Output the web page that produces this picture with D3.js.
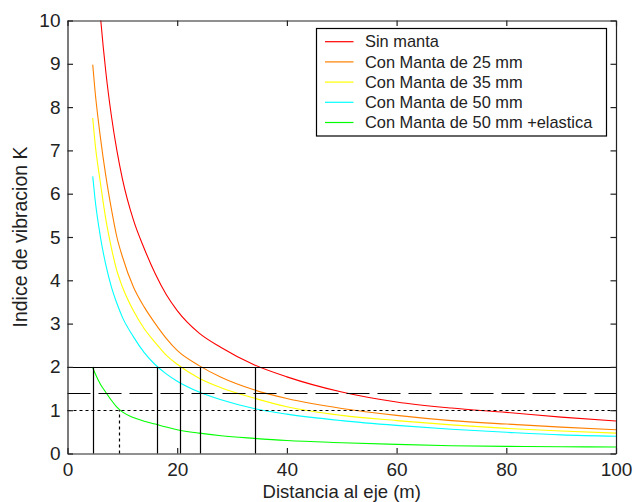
<!DOCTYPE html>
<html>
<head>
<meta charset="utf-8">
<script src="https://cdn.jsdelivr.net/npm/d3@7"></script>
<style>
  html, body { margin: 0; padding: 0; background: #fff; }
  svg { display: block; font-family: "Liberation Sans", Arial, sans-serif; }
</style>
</head>
<body>
<svg id="chart" width="635" height="502"></svg>
<script>
// Distance from the track axis (m)
const distances = [4.6, 5, 6, 7, 8, 9, 10, 12, 14, 16, 18, 20, 24, 28, 34, 40, 50, 60, 70, 80, 90, 100];

// Vibration index K for each treatment
const sinManta     = [12.6, 11.8, 10.1, 8.8, 7.8, 7.0, 6.35, 5.4, 4.73, 4.15, 3.67, 3.3, 2.78, 2.45, 2.05, 1.77, 1.42, 1.19, 1.05, 0.95, 0.84, 0.75];
const manta25      = [8.98, 8.4, 7.3, 6.4, 5.65, 5.0, 4.55, 3.85, 3.38, 3.0, 2.66, 2.38, 2.03, 1.76, 1.47, 1.27, 1.04, 0.88, 0.76, 0.68, 0.61, 0.55];
const manta35      = [7.75, 7.2, 6.25, 5.4, 4.75, 4.22, 3.85, 3.3, 2.88, 2.56, 2.27, 2.06, 1.74, 1.52, 1.28, 1.08, 0.88, 0.76, 0.66, 0.58, 0.52, 0.47];
const manta50      = [6.4, 5.9, 5.0, 4.35, 3.85, 3.47, 3.15, 2.7, 2.33, 2.05, 1.84, 1.67, 1.42, 1.24, 1.04, 0.91, 0.76, 0.65, 0.56, 0.49, 0.43, 0.40];
const manta50Elast = [1.98, 1.86, 1.6, 1.41, 1.23, 1.07, 0.96, 0.83, 0.745, 0.68, 0.61, 0.55, 0.47, 0.41, 0.35, 0.30, 0.25, 0.21, 0.18, 0.165, 0.155, 0.15];

const seriesNames = ["Sin manta", "Con Manta de 25 mm", "Con Manta de 35 mm", "Con Manta de 50 mm", "Con Manta de 50 mm +elastica"];
const seriesValues = [sinManta, manta25, manta35, manta50, manta50Elast];
const seriesColors = ["#ff0000", "#ff8000", "#ffff00", "#00ffff", "#00ff00"];

// Limit levels of K
const limitSolid = 2;
const limitDashed = 1.4;
const limitDotted = 1;
// Distances where each curve reaches K = 2, and where the last one reaches K = 1
const crossAt2 = [4.6, 16.4, 20.6, 24.2, 34.2];
const crossAt1 = [9.3];

const xTicks = [0, 20, 40, 60, 80, 100];
const yTicks = [0, 1, 2, 3, 4, 5, 6, 7, 8, 9, 10];

const svg = d3.select("#chart");
const plotLeft = 67.5, plotRight = 616, plotTop = 20.5, plotBottom = 453.5;

const x = d3.scaleLinear().domain([0, 100]).range([plotLeft, plotRight]);
const y = d3.scaleLinear().domain([0, 10]).range([plotBottom, plotTop]);

svg.append("defs").append("clipPath").attr("id", "plotClip")
  .append("rect").attr("x", plotLeft).attr("y", plotTop)
  .attr("width", plotRight - plotLeft).attr("height", plotBottom - plotTop);

const plot = svg.append("g").attr("clip-path", "url(#plotClip)");

// Curves
const line = d3.line()
  .x((d, i) => x(distances[i]))
  .y(d => y(d))
  .curve(d3.curveMonotoneX);

seriesValues.forEach((vals, k) => {
  plot.append("path")
    .datum(vals)
    .attr("fill", "none")
    .attr("stroke", seriesColors[k])
    .attr("stroke-width", 1.1)
    .attr("d", line);
});

// Limit lines
const refs = svg.append("g").attr("stroke", "#000").attr("fill", "none");
const snap = v => Math.round(v) + 0.5;

refs.append("line")
  .attr("x1", x(0)).attr("x2", x(100))
  .attr("y1", snap(y(limitSolid))).attr("y2", snap(y(limitSolid)))
  .attr("stroke-width", 1.2);
refs.append("line")
  .attr("x1", x(0)).attr("x2", x(100))
  .attr("y1", snap(y(limitDashed))).attr("y2", snap(y(limitDashed)))
  .attr("stroke-width", 1.2)
  .attr("stroke-dasharray", "23,8");
refs.append("line")
  .attr("x1", x(0)).attr("x2", x(100))
  .attr("y1", snap(y(limitDotted))).attr("y2", snap(y(limitDotted)))
  .attr("stroke-width", 1.2)
  .attr("stroke-dasharray", "3,3");

refs.selectAll("line.v2").data(crossAt2).enter().append("line")
  .attr("class", "v2")
  .attr("x1", d => snap(x(d))).attr("x2", d => snap(x(d)))
  .attr("y1", y(0)).attr("y2", y(limitSolid))
  .attr("stroke-width", 1.2);
refs.selectAll("line.v1").data(crossAt1).enter().append("line")
  .attr("class", "v1")
  .attr("x1", d => snap(x(d))).attr("x2", d => snap(x(d)))
  .attr("y1", y(0)).attr("y2", y(limitDotted))
  .attr("stroke-width", 1.2)
  .attr("stroke-dasharray", "3,3");

// Axes (ticks point inward, box on all four sides)
const tickLen = 5.5;
const fontSize = 19;

const gx = svg.append("g").attr("transform", `translate(0,${plotBottom})`)
  .call(d3.axisBottom(x).tickValues(xTicks).tickSizeInner(-tickLen).tickSizeOuter(0).tickPadding(9.5));
const gy = svg.append("g").attr("transform", `translate(${plotLeft},0)`)
  .call(d3.axisLeft(y).tickValues(yTicks).tickSizeInner(-tickLen).tickSizeOuter(0).tickPadding(7));
const gxt = svg.append("g").attr("transform", `translate(0,${plotTop})`)
  .call(d3.axisTop(x).tickValues(xTicks).tickSizeInner(-tickLen).tickSizeOuter(0).tickFormat(""));
const gyr = svg.append("g").attr("transform", `translate(${plotRight},0)`)
  .call(d3.axisRight(y).tickValues(yTicks).tickSizeInner(-tickLen).tickSizeOuter(0).tickFormat(""));

[gx, gy, gxt, gyr].forEach(g => {
  g.select(".domain").attr("stroke", "#222").attr("stroke-width", 1.2);
  g.selectAll(".tick line").attr("stroke", "#222").attr("stroke-width", 1.2);
  g.selectAll(".tick text")
    .attr("fill", "#222")
    .style("font-size", fontSize + "px")
    .style("font-family", '"Liberation Sans", Arial, sans-serif');
});

// Axis titles
svg.append("text")
  .attr("x", (plotLeft + plotRight) / 2)
  .attr("y", 498)
  .attr("text-anchor", "middle")
  .attr("fill", "#222")
  .style("font-size", "18.5px")
  .text("Distancia al eje (m)");

svg.append("text")
  .attr("transform", `translate(26.5,${(plotTop + plotBottom) / 2}) rotate(-90)`)
  .attr("text-anchor", "middle")
  .attr("fill", "#222")
  .style("font-size", "19.5px")
  .text("Indice de vibracion K");

// Legend
const legend = svg.append("g");
const lgX = 316.5, lgY = 28.5, lgW = 290, lgH = 107.5, rowH = 20.2, firstRow = 41.7;
legend.append("rect")
  .attr("x", lgX).attr("y", lgY).attr("width", lgW).attr("height", lgH)
  .attr("fill", "#fff").attr("stroke", "#000").attr("stroke-width", 1.2);

const rows = legend.selectAll("g.row").data(seriesNames).enter().append("g")
  .attr("class", "row")
  .attr("transform", (d, i) => `translate(0,${firstRow + i * rowH})`);
rows.append("line")
  .attr("x1", 325).attr("x2", 353.5).attr("y1", 0).attr("y2", 0)
  .attr("stroke", (d, i) => seriesColors[i]).attr("stroke-width", 1.2);
rows.append("text")
  .attr("x", 365).attr("y", 0).attr("dy", "0.35em")
  .attr("fill", "#222")
  .style("font-size", "16.4px")
  .text(d => d);
</script>
</body>
</html>
